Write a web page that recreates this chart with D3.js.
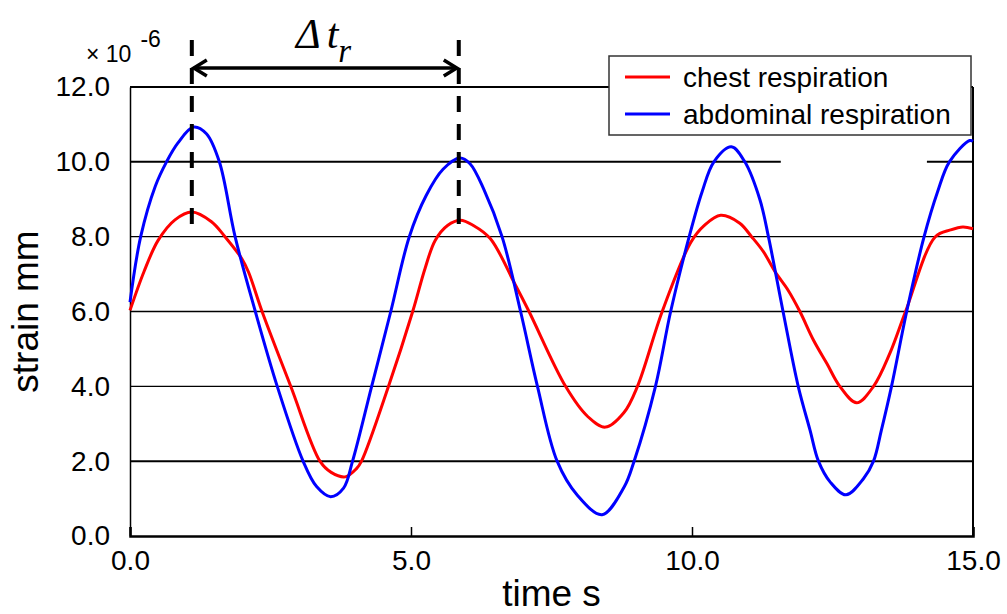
<!DOCTYPE html>
<html>
<head>
<meta charset="utf-8">
<script src="https://cdn.jsdelivr.net/npm/d3@7"></script>
<style>
  body { margin: 0; background: #fff; }
  svg { display: block; font-family: "Liberation Sans", Arial, sans-serif; }
</style>
</head>
<body>
<svg id="canvas" width="1007" height="614"></svg>
<script>
// data (time in s, strain in 1e-6 mm)
let chestTime   = [0, 0.25, 0.50, 0.80, 1.10, 1.45, 1.69, 1.99, 2.11, 2.35, 2.86, 3.38, 3.58, 3.83, 4.03, 4.12, 4.60, 5.03, 5.25, 5.43, 5.65, 5.88, 6.11, 6.41, 6.86, 7.10, 7.75, 8.14, 8.46, 8.79, 9.03, 9.47, 9.98, 10.22, 10.51, 10.85, 11.06, 11.27, 11.48, 11.71, 11.92, 12.16, 12.40, 12.63, 12.93, 13.23, 13.52, 13.80, 14.33, 14.60, 14.82, 15.0]
let chestStrain = [6.03, 7.07, 7.9, 8.45, 8.66, 8.4, 8.0, 7.41, 7.05, 6.0, 4.0, 2.0, 1.7, 1.58, 1.8, 2.0, 4.0, 6.0, 7.15, 7.9, 8.3, 8.44, 8.3, 7.95, 6.7, 6.0, 4.0, 3.2, 2.91, 3.3, 4.0, 6.0, 7.85, 8.3, 8.57, 8.36, 8.0, 7.6, 7.06, 6.57, 6.0, 5.24, 4.61, 4.0, 3.56, 4.0, 4.88, 6.0, 8.0, 8.18, 8.26, 8.21]

let abdTime   = [0, 0.19, 0.45, 0.65, 0.85, 1.13, 1.36, 1.59, 1.87, 2.23, 2.62, 3.08, 3.32, 3.57, 3.80, 3.96, 4.30, 4.64, 4.97, 5.27, 5.57, 5.87, 6.05, 6.30, 6.62, 6.95, 7.25, 7.60, 7.96, 8.40, 8.79, 8.97, 9.35, 9.62, 9.95, 10.18, 10.39, 10.70, 10.94, 11.21, 11.36, 11.62, 11.89, 12.10, 12.25, 12.46, 12.74, 13.05, 13.23, 13.37, 13.55, 13.82, 14.13, 14.37, 14.58, 14.94, 15.0]
let abdStrain = [6.25, 8.0, 9.35, 10.0, 10.5, 10.93, 10.75, 10.0, 8.0, 6.0, 4.0, 2.0, 1.32, 1.05, 1.28, 2.0, 4.0, 6.0, 8.0, 9.1, 9.8, 10.1, 9.95, 9.25, 8.0, 6.0, 4.0, 2.0, 1.09, 0.57, 1.3, 2.0, 4.0, 6.0, 8.0, 9.2, 10.0, 10.4, 10.0, 8.98, 8.0, 6.0, 4.0, 2.83, 2.0, 1.44, 1.1, 1.53, 2.0, 2.83, 4.0, 6.0, 8.0, 9.2, 10.0, 10.57, 10.55]

let series = [
  {name: 'chest respiration', color: '#ff0000', t: chestTime, v: chestStrain},
  {name: 'abdominal respiration', color: '#0000ff', t: abdTime, v: abdStrain}
]

let xTicks = [0, 5, 10, 15]
let yTicks = [0, 2, 4, 6, 8, 10, 12]
let gridValues = [2, 4, 6, 8, 10]
let gridGap = [11.58, 14.18]   // the 10.0 line is broken here
let markTimes = [1.1, 5.85]    // Δt_r markers
let markBottom = 8.3

let canvas = d3.select('#canvas')

let x = d3.scaleLinear().domain([0, 15]).range([130, 973])
let y = d3.scaleLinear().domain([0, 12]).range([536, 87])

// grid
gridValues.forEach(g => {
  let segs = g === 10 ? [[0, gridGap[0]], [gridGap[1], 15]] : [[0, 15]]
  segs.forEach(s => {
    canvas.append('line')
      .attr('x1', x(s[0])).attr('x2', x(s[1]))
      .attr('y1', y(g)).attr('y2', y(g))
      .attr('stroke', '#000')
      .attr('stroke-width', (g === 10 || g === 2) ? 2 : 1.3)
  })
})

// frame top / right
canvas.append('line')
  .attr('x1', x(0)).attr('x2', x(15)).attr('y1', y(12)).attr('y2', y(12))
  .attr('stroke', '#000').attr('stroke-width', 2)
canvas.append('line')
  .attr('x1', x(15)).attr('x2', x(15)).attr('y1', y(12)).attr('y2', y(0))
  .attr('stroke', '#000').attr('stroke-width', 2)

// axes
let xAxis = canvas.append('g')
  .attr('transform', `translate(0,${y(0)})`)
  .call(d3.axisBottom(x).tickValues(xTicks).tickFormat(d3.format('.1f')).tickSize(-9).tickPadding(14))
xAxis.select('.domain').attr('stroke-width', 2.5)
xAxis.selectAll('.tick line').attr('stroke-width', 1.5)
xAxis.selectAll('text').attr('font-size', 28).attr('fill', '#000').attr('font-family', 'Liberation Sans, Arial, sans-serif')

let yAxis = canvas.append('g')
  .attr('transform', `translate(${x(0)},0)`)
  .call(d3.axisLeft(y).tickValues(yTicks).tickFormat(d3.format('.1f')).tickSize(0).tickPadding(20))
yAxis.select('.domain').attr('stroke-width', 1.5)
yAxis.selectAll('text').attr('font-size', 28).attr('fill', '#000').attr('font-family', 'Liberation Sans, Arial, sans-serif')

// axis titles
canvas.append('text')
  .attr('x', (x(0) + x(15)) / 2).attr('y', 606)
  .attr('text-anchor', 'middle').attr('font-size', 37)
  .text('time s')
canvas.append('text')
  .attr('transform', `translate(38,${(y(0) + y(12)) / 2}) rotate(-90)`)
  .attr('text-anchor', 'middle').attr('font-size', 37)
  .text('strain mm')

// exponent
let expo = canvas.append('text').attr('x', 86).attr('y', 62).attr('font-size', 23)
expo.append('tspan').text('\u00d7 10')
expo.append('tspan').attr('dx', 9).attr('dy', -15).text('-6')

// curves
let line = d3.line()
  .x(d => x(d[0]))
  .y(d => y(d[1]))
  .curve(d3.curveCatmullRom.alpha(0.5))

series.forEach(s => {
  canvas.append('path')
    .datum(s.t.map((t, i) => [t, s.v[i]]))
    .attr('d', line)
    .attr('fill', 'none')
    .attr('stroke', s.color)
    .attr('stroke-width', 3)
    .attr('stroke-linejoin', 'round')
})

// Δt_r annotation
markTimes.forEach(t => {
  canvas.append('line')
    .attr('x1', x(t)).attr('x2', x(t))
    .attr('y1', 40).attr('y2', y(markBottom))
    .attr('stroke', '#000').attr('stroke-width', 4)
    .attr('stroke-dasharray', '16,12')
})
let ay = 68
let ax0 = x(markTimes[0]), ax1 = x(markTimes[1])
canvas.append('line')
  .attr('x1', ax0 + 2).attr('x2', ax1 - 2).attr('y1', ay).attr('y2', ay)
  .attr('stroke', '#000').attr('stroke-width', 3.5)
canvas.append('path')
  .attr('d', `M${ax0 + 15},${ay - 8} L${ax0 + 2},${ay} L${ax0 + 15},${ay + 8}`)
  .attr('fill', 'none').attr('stroke', '#000').attr('stroke-width', 3.5)
canvas.append('path')
  .attr('d', `M${ax1 - 15},${ay - 8} L${ax1 - 2},${ay} L${ax1 - 15},${ay + 8}`)
  .attr('fill', 'none').attr('stroke', '#000').attr('stroke-width', 3.5)

let dt = canvas.append('text')
  .attr('x', 296).attr('y', 48)
  .attr('font-family', 'Liberation Serif, Times New Roman, serif')
  .attr('font-style', 'italic').attr('font-size', 42)
dt.append('tspan').text('\u0394')
dt.append('tspan').attr('dx', 6).text('t')
dt.append('tspan').attr('dy', 14).attr('font-size', 33).text('r')

// legend
let legend = canvas.append('g')
legend.append('rect')
  .attr('x', 609).attr('y', 56).attr('width', 362).attr('height', 79)
  .attr('fill', '#fff').attr('stroke', '#333').attr('stroke-width', 1.5)
series.forEach((s, i) => {
  let ly = 77 + i * 37
  legend.append('line')
    .attr('x1', 625).attr('x2', 670).attr('y1', ly).attr('y2', ly)
    .attr('stroke', s.color).attr('stroke-width', 3)
  legend.append('text')
    .attr('x', 683).attr('y', ly + 10)
    .attr('font-size', 28)
    .text(s.name)
})
</script>
</body>
</html>
